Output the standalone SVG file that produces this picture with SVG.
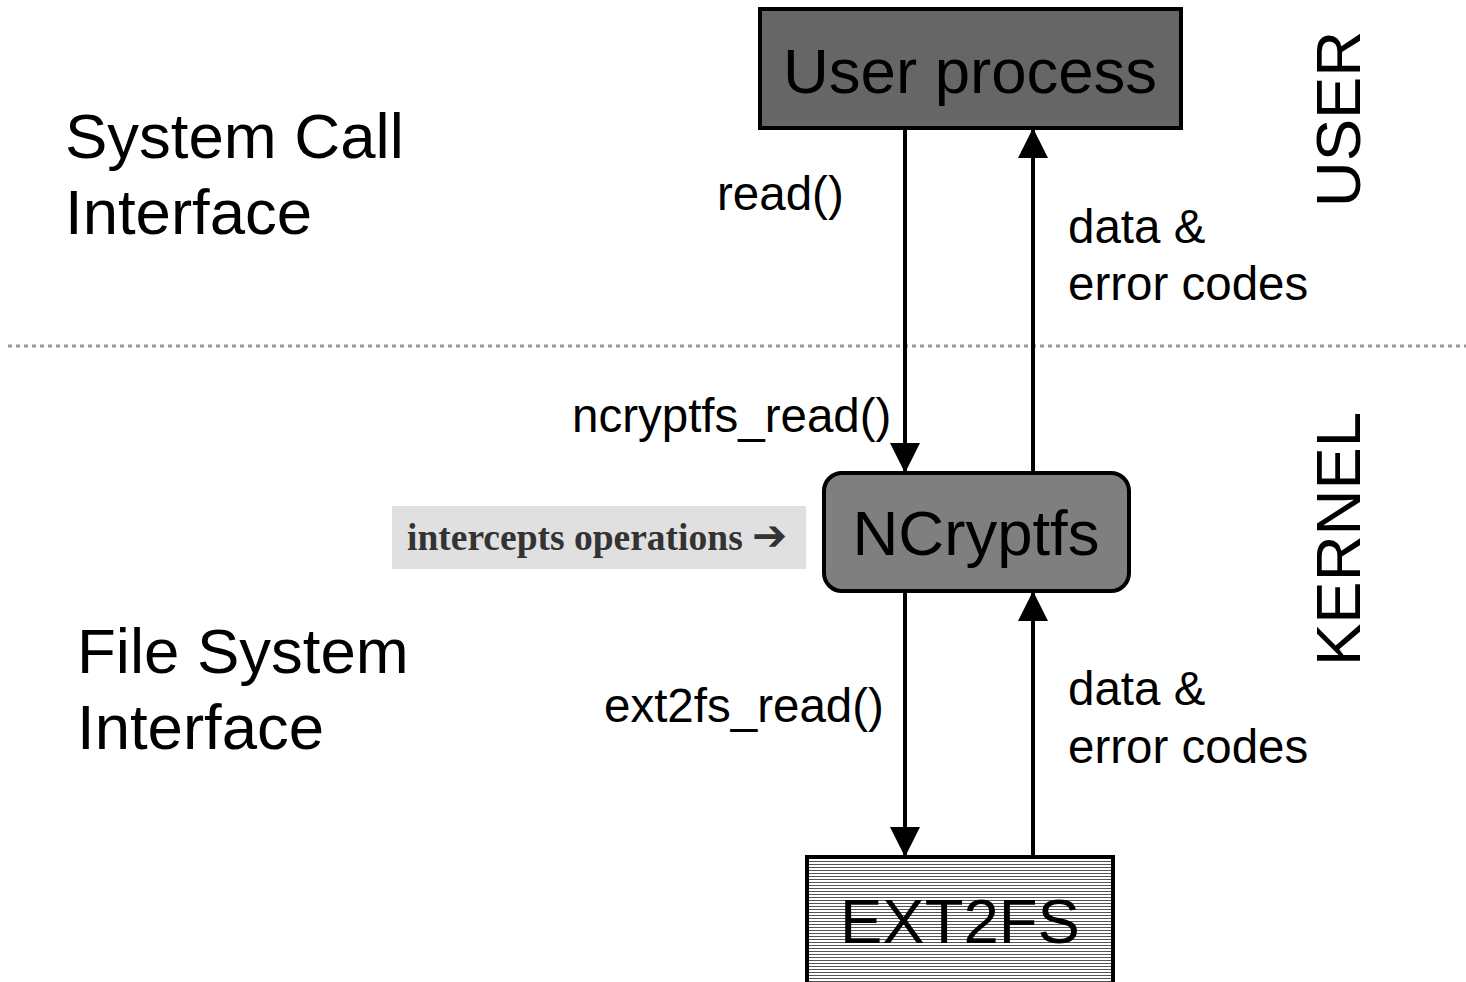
<svg xmlns="http://www.w3.org/2000/svg" width="1466" height="982" viewBox="0 0 1466 982">
<defs>
<style>
.t{font-family:"Liberation Sans",Arial,sans-serif;fill:#000}
.big{font-size:63.5px}
.mid{font-size:47.5px}
.conn{stroke:#000;stroke-width:4;fill:none}
</style>
<pattern id="hatch" patternUnits="userSpaceOnUse" width="8" height="3">
<rect width="8" height="3" fill="#ffffff"/>
<rect y="0" width="8" height="1" fill="#555555"/>
</pattern>
<marker id="ah" markerUnits="userSpaceOnUse" markerWidth="32" markerHeight="30" refX="30" refY="15" orient="auto">
<path d="M0,0 L30,15 L0,30 Z" fill="#000"/>
</marker>
</defs>
<rect width="1466" height="982" fill="#fff"/>
<line x1="8" y1="346" x2="1466" y2="346" stroke="#999" stroke-width="3" stroke-dasharray="4 4"/>
<g id="labels">
<text class="t big" x="65" y="158">System Call</text>
<text class="t big" x="65" y="234">Interface</text>
<text class="t big" x="77" y="673">File System</text>
<text class="t big" x="77" y="749">Interface</text>
<text class="t big" transform="translate(1360,119) rotate(-90)" text-anchor="middle">USER</text>
<text class="t big" transform="translate(1360,539) rotate(-90)" text-anchor="middle">KERNEL</text>
</g>
<g id="connectors">
<line class="conn" x1="905" y1="130" x2="905" y2="473" marker-end="url(#ah)"/>
<line class="conn" x1="1033" y1="473" x2="1033" y2="128" marker-end="url(#ah)"/>
<line class="conn" x1="905" y1="593" x2="905" y2="857" marker-end="url(#ah)"/>
<line class="conn" x1="1033" y1="857" x2="1033" y2="591" marker-end="url(#ah)"/>
<text class="t mid" x="717" y="210">read()</text>
<text class="t mid" x="1068" y="243">data &amp;</text>
<text class="t mid" x="1068" y="300">error codes</text>
<text class="t mid" x="572" y="432">ncryptfs_read()</text>
<text class="t mid" x="604" y="722">ext2fs_read()</text>
<text class="t mid" x="1068" y="705">data &amp;</text>
<text class="t mid" x="1068" y="763">error codes</text>
</g>
<g id="user-process">
<rect x="760" y="9" width="421" height="119" fill="#666666" stroke="#000" stroke-width="4"/>
<text class="t big" x="970" y="93" text-anchor="middle">User process</text>
</g>
<g id="ncryptfs">
<rect x="824" y="473" width="305" height="118" rx="18" ry="18" fill="#7f7f7f" stroke="#000" stroke-width="4"/>
<text class="t big" x="976" y="555" text-anchor="middle">NCryptfs</text>
</g>
<g id="ext2fs">
<rect x="807" y="857" width="306" height="130" fill="url(#hatch)" stroke="#000" stroke-width="4"/>
<text class="t big" x="960" y="943" text-anchor="middle">EXT2FS</text>
</g>
<g id="note">
<rect x="392" y="506" width="414" height="63" fill="#e0e0e0"/>
<text x="407" y="550" font-family="'Liberation Serif','Times New Roman',serif" font-weight="bold" font-size="37.5" fill="#333">intercepts operations <tspan font-family="'DejaVu Sans',sans-serif" font-weight="bold" font-size="42">➔</tspan></text>
</g>
</svg>
